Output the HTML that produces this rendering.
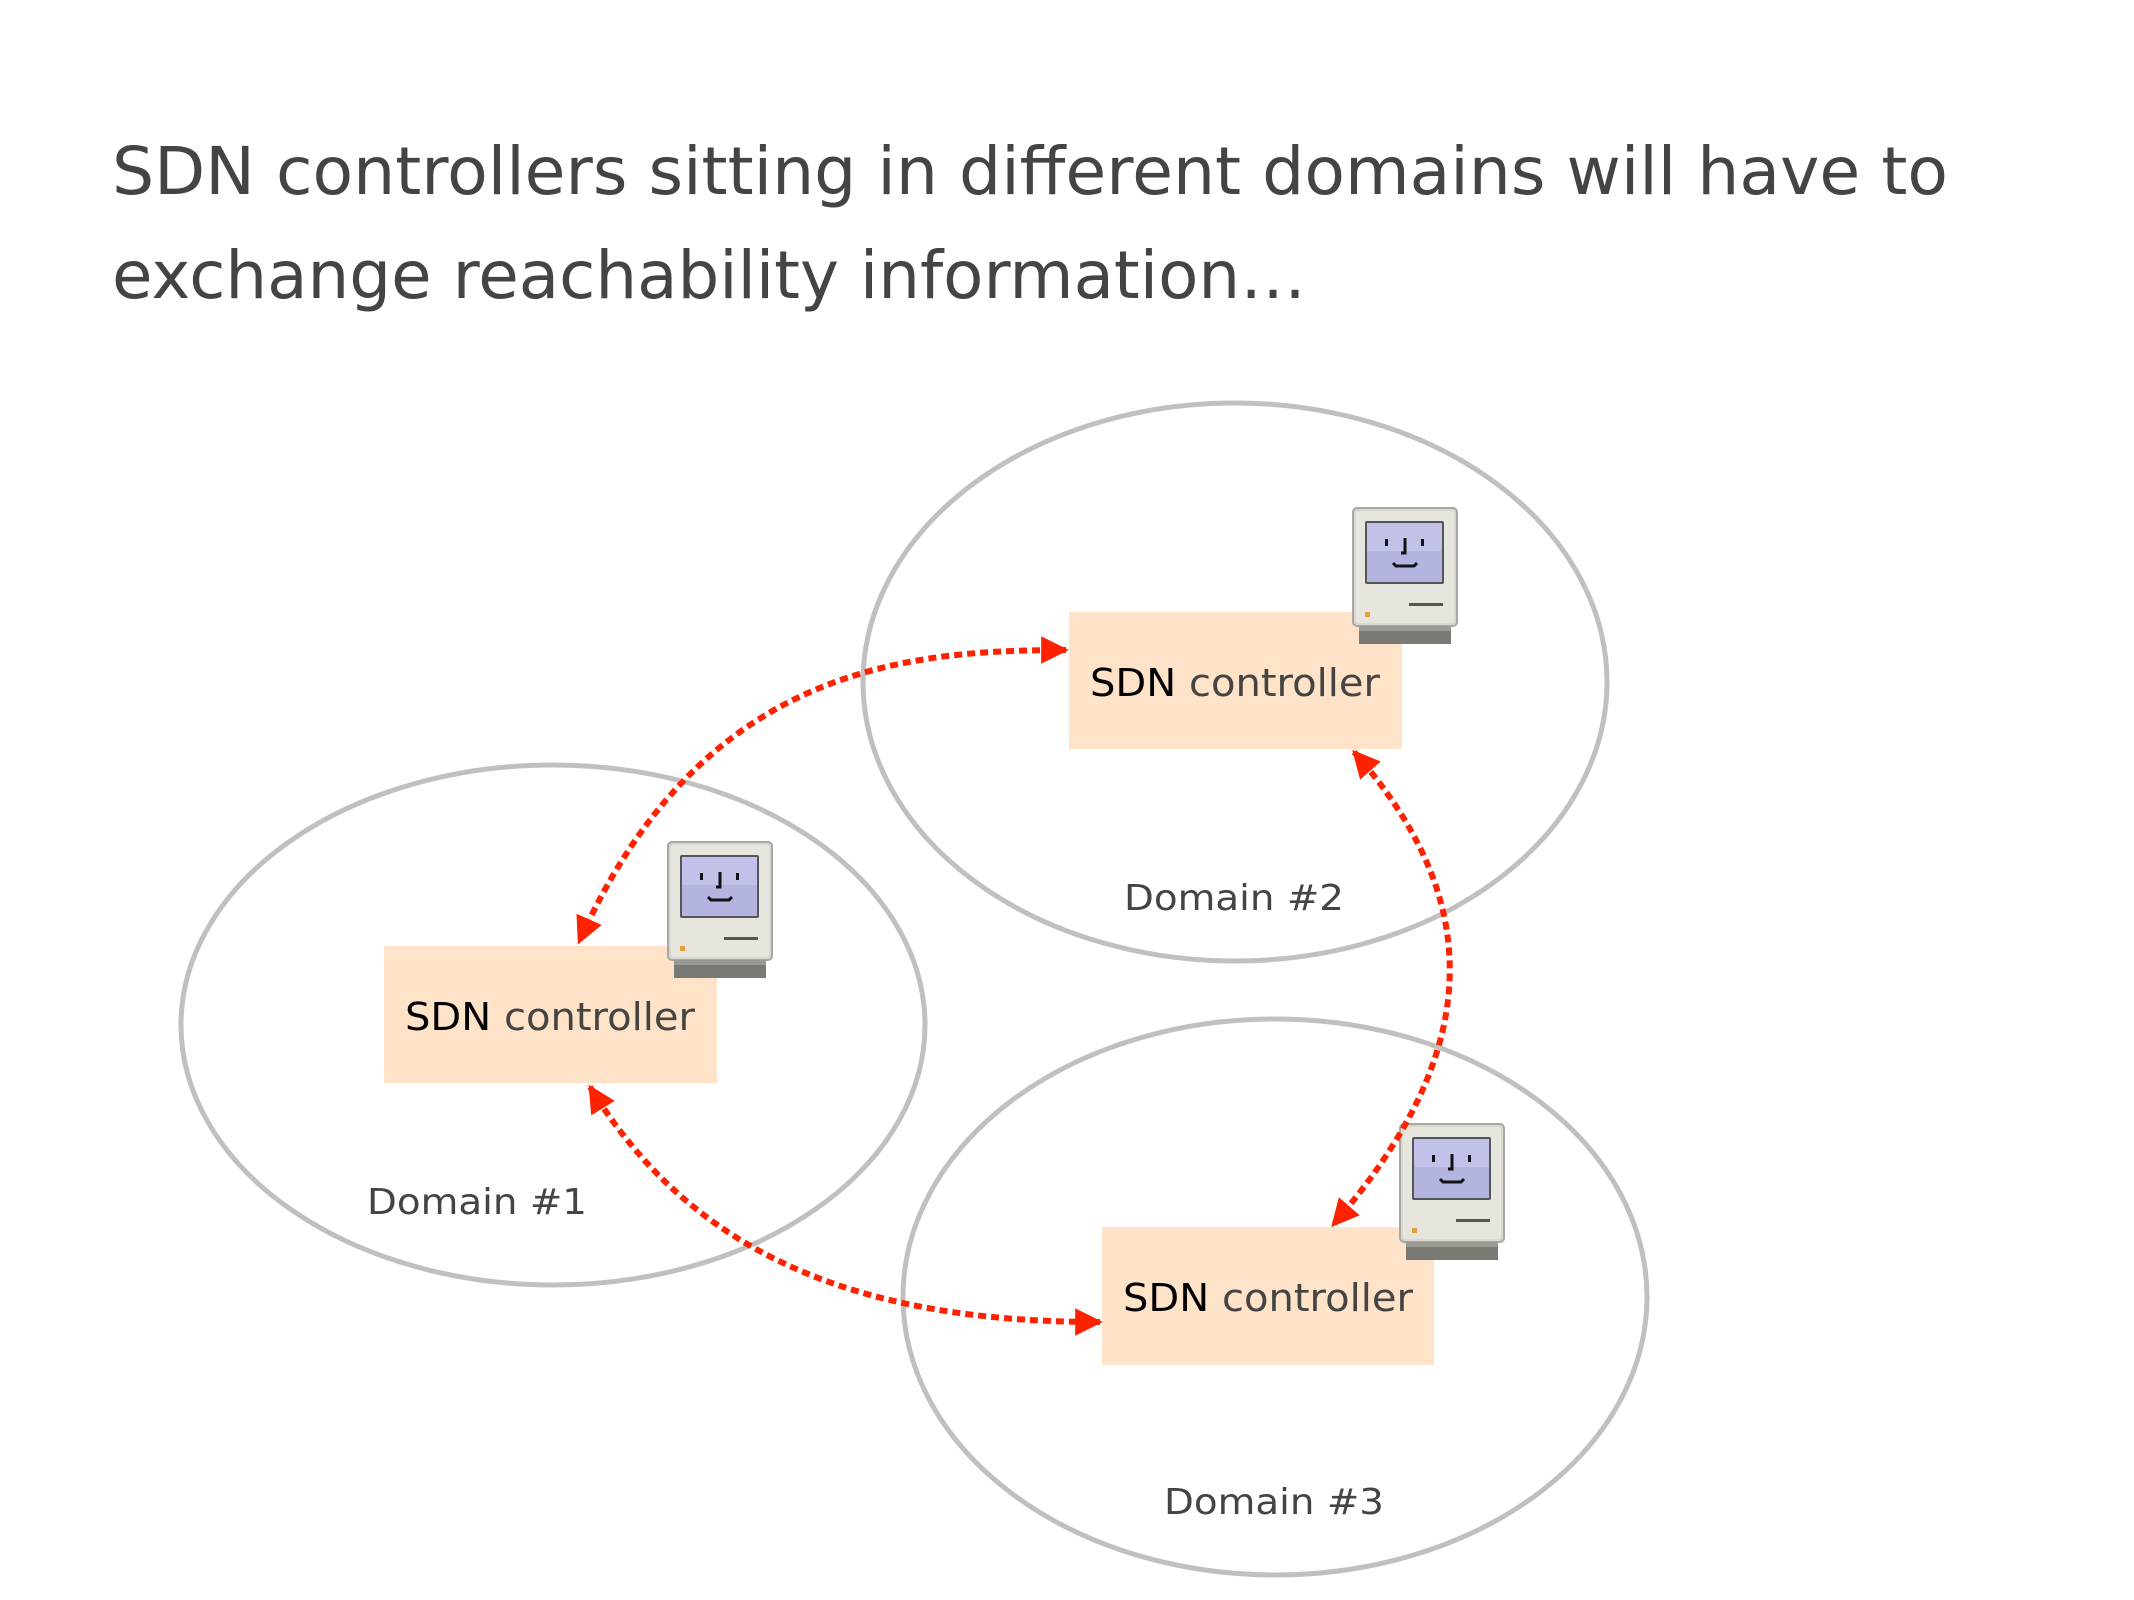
<!DOCTYPE html>
<html><head><meta charset="utf-8"><style>
html,body{margin:0;padding:0;background:#fff;}
svg{display:block;}
</style></head><body>
<svg width="2134" height="1600" viewBox="0 0 2134 1600" xmlns="http://www.w3.org/2000/svg">
<defs>
<marker id="ah" viewBox="0 0 10 10" refX="9" refY="5" markerWidth="4.6" markerHeight="4.6" orient="auto-start-reverse" markerUnits="strokeWidth">
<path d="M0,0 L10,5 L0,10 z" fill="#ff2200"/>
</marker>
<g id="mac">
<rect x="0" y="0" width="104" height="118" rx="4" fill="#d8d8d0" stroke="#a8a8a0" stroke-width="2"/>
<rect x="3" y="3" width="98" height="112" rx="3" fill="#e6e6df"/>
<rect x="12" y="13" width="79" height="63" rx="2" fill="#55555a"/>
<rect x="14" y="15" width="75" height="59" fill="#b4b4e0"/>
<rect x="14" y="15" width="75" height="28" fill="#c2c2e8"/>
<rect x="32" y="31" width="3" height="7" fill="#111"/>
<rect x="68" y="31" width="3" height="7" fill="#111"/>
<path d="M52,30 v15 h-4" stroke="#111" stroke-width="3" fill="none"/>
<path d="M40,55 l3,3 h18 l3,-3" stroke="#111" stroke-width="3" fill="none"/>
<rect x="56" y="95" width="34" height="3" fill="#555"/>
<rect x="12" y="104" width="5" height="5" fill="#e4a040"/>
<rect x="6" y="118" width="92" height="18" fill="#7a7a74"/>
<rect x="6" y="118" width="92" height="5" fill="#9a9a94"/>
</g>
</defs>

<g font-family="'DejaVu Sans','Liberation Sans',sans-serif" fill="#444">
<text x="112" y="194" font-size="66" textLength="1836" lengthAdjust="spacingAndGlyphs">SDN controllers sitting in different domains will have to</text>
<text x="112" y="298" font-size="66" textLength="1194" lengthAdjust="spacingAndGlyphs">exchange reachability information…</text>
</g>

<g fill="none" stroke="#c0c0c0" stroke-width="5">
<ellipse cx="1235" cy="682" rx="372" ry="279"/>
<ellipse cx="553" cy="1025" rx="372" ry="260"/>
<ellipse cx="1275" cy="1297" rx="372" ry="278"/>
</g>

<g fill="#ffe3c8">
<rect x="1069" y="612" width="333" height="137"/>
<rect x="384" y="946" width="333" height="137"/>
<rect x="1102" y="1227" width="332" height="138"/>
</g>

<use href="#mac" x="1353" y="508"/>
<use href="#mac" x="668" y="842"/>
<use href="#mac" x="1400" y="1124"/>

<g font-family="'DejaVu Sans','Liberation Sans',sans-serif" font-size="38">
<text x="1090" y="696" textLength="290" lengthAdjust="spacingAndGlyphs"><tspan fill="#000">SDN</tspan><tspan fill="#444"> controller</tspan></text>
<text x="405" y="1030" textLength="290" lengthAdjust="spacingAndGlyphs"><tspan fill="#000">SDN</tspan><tspan fill="#444"> controller</tspan></text>
<text x="1123" y="1311" textLength="290" lengthAdjust="spacingAndGlyphs"><tspan fill="#000">SDN</tspan><tspan fill="#444"> controller</tspan></text>
</g>
<g font-family="'DejaVu Sans','Liberation Sans',sans-serif" font-size="36" fill="#444">
<text x="1124" y="910" textLength="220" lengthAdjust="spacingAndGlyphs">Domain #2</text>
<text x="367" y="1214" textLength="220" lengthAdjust="spacingAndGlyphs">Domain #1</text>
<text x="1164" y="1514" textLength="220" lengthAdjust="spacingAndGlyphs">Domain #3</text>
</g>

<g fill="none" stroke="#ff2200" stroke-width="6" stroke-dasharray="8 5" marker-start="url(#ah)" marker-end="url(#ah)">
<path d="M1066,650 C900,650 700,670 579,942"/>
<path d="M1354,752 C1485,900 1485,1050 1333,1225"/>
<path d="M590,1087 C690,1250 850,1322 1100,1322"/>
</g>
</svg>
</body></html>
